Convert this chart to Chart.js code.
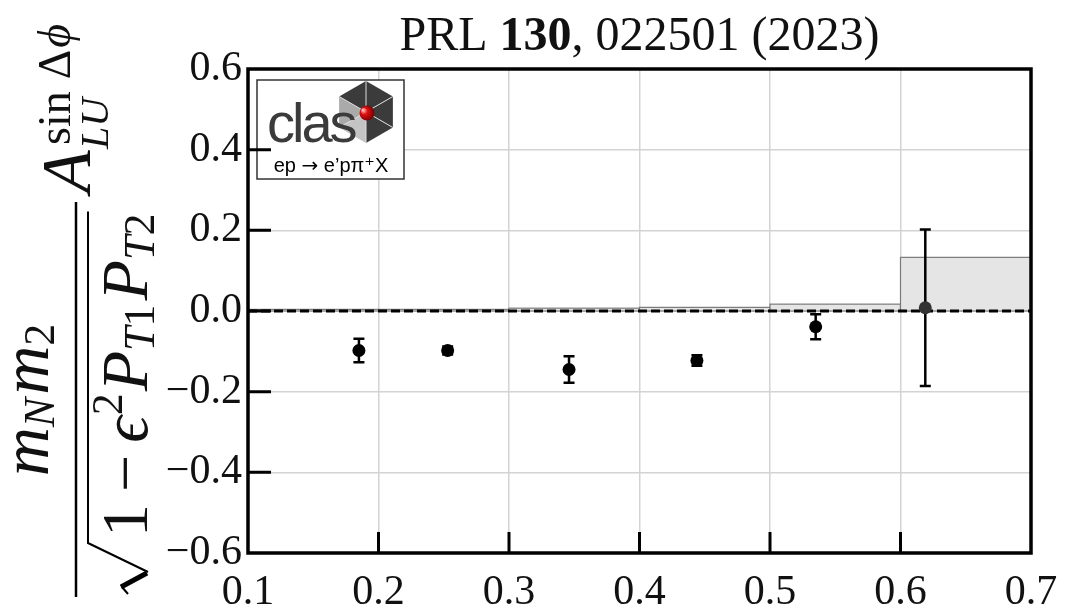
<!DOCTYPE html>
<html>
<head>
<meta charset="utf-8">
<script src="https://cdn.jsdelivr.net/npm/chart.js@4.4.0/dist/chart.umd.min.js"></script>
<style>
  html, body { margin: 0; padding: 0; background: #fff; }
  canvas { display: block; }
</style>
</head>
<body>
<canvas id="asymChart" width="1079" height="613"></canvas>
<script>
// asymmetry vs x, CLAS ep -> e'p pi+ X

const xValues = [0.185, 0.253, 0.346, 0.444, 0.535, 0.619];
const asymValues = [-0.098, -0.098, -0.145, -0.123, -0.039, 0.008];
const statErrors = [0.029, 0.010, 0.033, 0.013, 0.031, 0.194];
const binLow = [0.1, 0.2, 0.3, 0.4, 0.5, 0.6];
const binHigh = [0.2, 0.3, 0.4, 0.5, 0.6, 0.7];
const sysErrors = [0.004, 0.004, 0.007, 0.009, 0.017, 0.133];
const markerColors = ["#000", "#000", "#000", "#000", "#000", "#333"];
const xTicks = [0.1, 0.2, 0.3, 0.4, 0.5, 0.6, 0.7];
const yTicks = [-0.6, -0.4, -0.2, 0.0, 0.2, 0.4, 0.6];

const SERIF = "'Liberation Serif', 'DejaVu Serif', serif";
const SANS = "'Liberation Sans', 'DejaVu Sans', sans-serif";

function fmtTick(v) {
  if (Math.abs(v) < 1e-9) return "0.0";
  return v.toFixed(1).replace("-", "\u2212");
}

// draws a list of text pieces one after another along the baseline
function drawRun(ctx, parts, u) {
  for (const p of parts) {
    ctx.font = p.f;
    ctx.fillText(p.t, u, p.v);
    u += ctx.measureText(p.t).width + (p.gap || 0);
  }
  return u;
}
function runWidth(ctx, parts) {
  let w = 0;
  for (const p of parts) {
    ctx.font = p.f;
    w += ctx.measureText(p.t).width + (p.gap || 0);
  }
  return w;
}

// grey boxes for systematic uncertainty
const sysBoxes = {
  id: "sysBoxes",
  beforeDatasetsDraw(chart) {
    const { ctx, scales: { x, y } } = chart;
    ctx.save();
    for (let i = 0; i < sysErrors.length; i++) {
      const x0 = x.getPixelForValue(binLow[i]);
      const x1 = x.getPixelForValue(binHigh[i]);
      const y0 = y.getPixelForValue(0);
      const y1 = y.getPixelForValue(sysErrors[i]);
      ctx.fillStyle = "#e5e5e5";
      ctx.fillRect(x0, y1, x1 - x0, y0 - y1);
      ctx.strokeStyle = "#7a7a7a";
      ctx.lineWidth = 1.2;
      ctx.strokeRect(x0, y1, x1 - x0, y0 - y1);
    }
    ctx.restore();
  }
};

// statistical error bars, drawn after the dashed zero line
const errorBars = {
  id: "errorBars",
  afterDatasetDraw(chart, args) {
    if (args.index !== 1) return;
    const { ctx, scales: { x, y } } = chart;
    ctx.save();
    ctx.strokeStyle = "#000";
    ctx.lineWidth = 2.5;
    for (let i = 0; i < xValues.length; i++) {
      const px = x.getPixelForValue(xValues[i]);
      const top = y.getPixelForValue(asymValues[i] + statErrors[i]);
      const bot = y.getPixelForValue(asymValues[i] - statErrors[i]);
      ctx.beginPath();
      ctx.moveTo(px, top); ctx.lineTo(px, bot);
      ctx.moveTo(px - 5.5, top); ctx.lineTo(px + 5.5, top);
      ctx.moveTo(px - 5.5, bot); ctx.lineTo(px + 5.5, bot);
      ctx.stroke();
    }
    ctx.restore();
  }
};

// CLAS logo box in the top left corner
const clasLogo = {
  id: "clasLogo",
  afterDatasetsDraw(chart) {
    const ctx = chart.ctx;
    ctx.save();
    ctx.fillStyle = "#fff";
    ctx.fillRect(257, 80, 147, 99);
    ctx.strokeStyle = "#333";
    ctx.lineWidth = 1.5;
    ctx.strokeRect(257, 80, 147, 99);

    // hexagon
    const cx = 366, cy = 112, r = 31;
    const pts = [];
    for (let k = 0; k < 6; k++) {
      const a = -Math.PI / 2 + k * Math.PI / 3;
      pts.push([cx + r * Math.cos(a), cy + r * Math.sin(a)]);
    }
    const faces = ["#3b3b3b", "#3b3b3b", "#3b3b3b", "#c4c4c4", "#aaaaaa", "#3b3b3b"];
    for (let k = 0; k < 6; k++) {
      const p = pts[k], q = pts[(k + 1) % 6];
      ctx.beginPath();
      ctx.moveTo(cx, cy); ctx.lineTo(p[0], p[1]); ctx.lineTo(q[0], q[1]);
      ctx.closePath();
      ctx.fillStyle = faces[k];
      ctx.fill();
    }
    ctx.strokeStyle = "#ddd";
    ctx.lineWidth = 1;
    ctx.beginPath();
    for (const p of pts) { ctx.moveTo(cx, cy); ctx.lineTo(p[0], p[1]); }
    ctx.stroke();

    ctx.fillStyle = "#3b3b3b";
    ctx.font = "56px " + SANS;
    ctx.textBaseline = "alphabetic";
    ctx.textAlign = "left";
    ctx.letterSpacing = "-3px";
    ctx.fillText("clas", 267, 142);
    ctx.letterSpacing = "0px";

    const g = ctx.createRadialGradient(363, 110, 1, 366, 113, 8);
    g.addColorStop(0, "#ffb0b0");
    g.addColorStop(0.35, "#e01010");
    g.addColorStop(1, "#7a0000");
    ctx.fillStyle = g;
    ctx.beginPath();
    ctx.arc(367, 113, 7.5, 0, Math.PI * 2);
    ctx.fill();

    ctx.fillStyle = "#000";
    const sub = [
      { t: "ep ", f: "20px " + SANS, v: 172 },
      { t: "\u2192", f: "20px 'DejaVu Sans', sans-serif", v: 172 },
      { t: " e\u2019p\u03c0\u207aX", f: "20px " + SANS, v: 172 }
    ];
    drawRun(ctx, sub, 331 - runWidth(ctx, sub) / 2);
    ctx.restore();
  }
};

// title, y-axis label, inward ticks and the frame
const decorations = {
  id: "decorations",
  afterDraw(chart) {
    const { ctx, chartArea: area, scales: { x, y } } = chart;
    ctx.save();

    // inward ticks
    ctx.strokeStyle = "#000";
    ctx.lineWidth = 3;
    ctx.beginPath();
    xTicks.slice(1, -1).forEach(v => {
      const px = x.getPixelForValue(v);
      ctx.moveTo(px, area.bottom); ctx.lineTo(px, area.bottom - 21);
    });
    yTicks.slice(1, -1).forEach(v => {
      const py = y.getPixelForValue(v);
      ctx.moveTo(area.left, py); ctx.lineTo(area.left + 23, py);
    });
    ctx.stroke();

    ctx.lineWidth = 3.5;
    ctx.strokeRect(area.left, area.top, area.right - area.left, area.bottom - area.top);

    // title
    ctx.fillStyle = "#111";
    ctx.textBaseline = "alphabetic";
    ctx.textAlign = "left";
    const titleParts = [
      { t: "PRL ", f: "48px " + SERIF, v: 50 },
      { t: "130", f: "bold 48px " + SERIF, v: 50 },
      { t: ", 022501 (2023)", f: "48px " + SERIF, v: 50 }
    ];
    const tw = runWidth(ctx, titleParts);
    drawRun(ctx, titleParts, (area.left + area.right) / 2 - tw / 2);

    // rotated y label: u runs upward along the page, v is the page x
    ctx.translate(0, 613);
    ctx.rotate(-Math.PI / 2);
    const it = s => "italic " + s + "px " + SERIF;
    const up = s => s + "px " + SERIF;

    const numer = [
      { t: "m", f: it(68), v: 48 },
      { t: "N", f: it(44), v: 54, gap: 3 },
      { t: "m", f: it(68), v: 48 },
      { t: "2", f: up(44), v: 54 }
    ];
    drawRun(ctx, numer, 213 - runWidth(ctx, numer) / 2);

    ctx.lineWidth = 2.5;
    ctx.beginPath();
    ctx.moveTo(16, 76); ctx.lineTo(411, 76);
    ctx.stroke();

    const denom = [
      { t: "1", f: up(66), v: 147, gap: 12 },
      { t: "\u2212", f: up(66), v: 147, gap: 12 },
      { t: "\u03f5", f: it(66), v: 147, gap: 1 },
      { t: "2", f: up(44), v: 122, gap: 2 },
      { t: "P", f: it(66), v: 147 },
      { t: "T", f: it(44), v: 154 },
      { t: "1", f: up(44), v: 154, gap: 4 },
      { t: "P", f: it(66), v: 147 },
      { t: "T", f: it(44), v: 154 },
      { t: "2", f: up(44), v: 154 }
    ];
    const uEnd = drawRun(ctx, denom, 76);

    // radical sign
    ctx.lineJoin = "miter";
    ctx.lineWidth = 2;
    ctx.beginPath();
    ctx.moveTo(19, 128); ctx.lineTo(26, 122);
    ctx.stroke();
    ctx.lineWidth = 5;
    ctx.beginPath();
    ctx.moveTo(26, 121); ctx.lineTo(40, 147);
    ctx.stroke();
    ctx.lineWidth = 2;
    ctx.beginPath();
    ctx.moveTo(41, 148); ctx.lineTo(70, 88); ctx.lineTo(uEnd + 2, 88);
    ctx.stroke();

    drawRun(ctx, [{ t: "A", f: it(70), v: 90 }], 420);
    drawRun(ctx, [
      { t: "sin", f: up(46), v: 70, gap: 12 },
      { t: "\u0394", f: up(46), v: 70, gap: 2 },
      { t: "\u03d5", f: it(46), v: 70 }
    ], 468);
    drawRun(ctx, [{ t: "LU", f: it(40), v: 108 }], 464);

    ctx.restore();
  }
};

const ctx = document.getElementById("asymChart").getContext("2d");

new Chart(ctx, {
  type: "scatter",
  data: {
    datasets: [
      {
        label: "data",
        data: xValues.map((v, i) => ({ x: v, y: asymValues[i] })),
        pointRadius: 6.5,
        pointBackgroundColor: markerColors,
        pointBorderWidth: 0,
        order: 1
      },
      {
        label: "zero",
        data: [{ x: 0.1, y: 0 }, { x: 0.7, y: 0 }],
        showLine: true,
        borderColor: "#000",
        borderWidth: 2.8,
        borderDash: [9, 4],
        pointRadius: 0,
        order: 2
      }
    ]
  },
  options: {
    responsive: false,
    animation: false,
    layout: { padding: { top: 69, right: 48, left: 0, bottom: 0 } },
    plugins: {
      legend: { display: false },
      tooltip: { enabled: false },
      title: { display: false }
    },
    scales: {
      x: {
        type: "linear",
        min: 0.1,
        max: 0.7,
        afterBuildTicks: s => { s.ticks = xTicks.map(v => ({ value: v })); },
        afterFit: s => { s.height = 60; },
        grid: { color: "#d3d3d3", lineWidth: 1.5, drawTicks: false },
        border: { display: false },
        ticks: {
          padding: 15,
          color: "#111",
          font: { family: "'Liberation Serif', serif", size: 42 },
          callback: v => fmtTick(v)
        }
      },
      y: {
        type: "linear",
        min: -0.6,
        max: 0.6,
        afterBuildTicks: s => { s.ticks = yTicks.map(v => ({ value: v })); },
        afterFit: s => { s.width = 248; },
        grid: { color: "#d3d3d3", lineWidth: 1.5, drawTicks: false },
        border: { display: false },
        ticks: {
          padding: 6,
          color: "#111",
          font: { family: "'Liberation Serif', serif", size: 42 },
          callback: v => fmtTick(v)
        }
      }
    }
  },
  plugins: [sysBoxes, errorBars, clasLogo, decorations]
});
</script>
</body>
</html>
